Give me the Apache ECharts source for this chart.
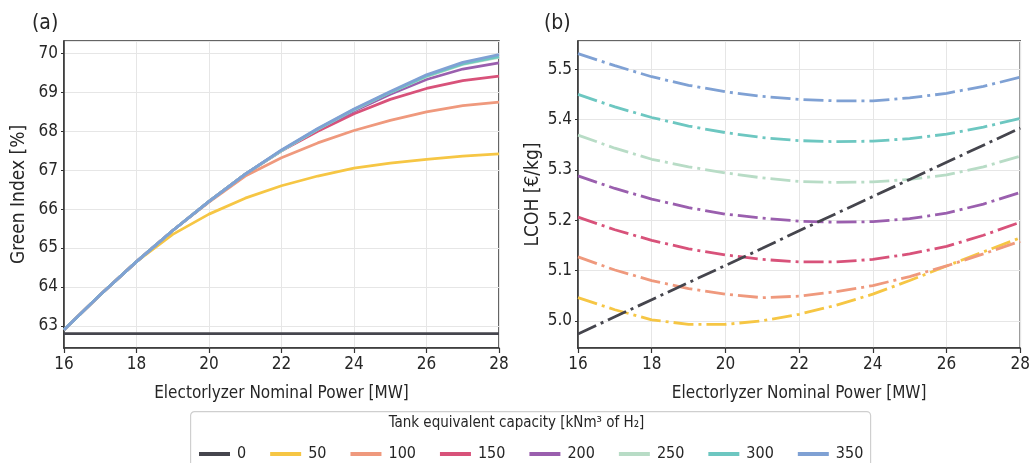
<!DOCTYPE html>
<html>
<head>
<meta charset="utf-8">
<script src="https://cdn.jsdelivr.net/npm/echarts@6/dist/echarts.min.js"></script>
<style>
  html, body { margin: 0; padding: 0; background: #fff; }
  #chart { width: 1033px; height: 463px; }
</style>
</head>
<body>
<div id="chart"></div>
<script>
// x values: electrolyzer nominal power [MW]
const powerMW = [16, 17, 18, 19, 20, 21, 22, 23, 24, 25, 26, 27, 28]
// tank equivalent capacity [kNm3 of H2]
const capacities = ['0', '50', '100', '150', '200', '250', '300', '350']
const palette = ['#45454d', '#f6c644', '#ef997d', '#d8527a', '#9a5fae', '#b8dcc6', '#6dc7c1', '#7fa1d4']

// (a) Green Index [%]
const green0   = [62.8, 62.8, 62.8, 62.8, 62.8, 62.8, 62.8, 62.8, 62.8, 62.8, 62.8, 62.8, 62.8]
const green50  = [62.9, 63.8, 64.65, 65.35, 65.87, 66.28, 66.6, 66.85, 67.05, 67.18, 67.28, 67.36, 67.42]
const green100 = [62.9, 63.8, 64.65, 65.45, 66.18, 66.85, 67.32, 67.7, 68.02, 68.28, 68.5, 68.66, 68.75]
const green150 = [62.9, 63.8, 64.65, 65.45, 66.2, 66.9, 67.5, 68.0, 68.45, 68.82, 69.1, 69.3, 69.42]
const green200 = [62.9, 63.8, 64.65, 65.45, 66.2, 66.9, 67.5, 68.05, 68.52, 68.95, 69.33, 69.6, 69.76]
const green250 = [62.9, 63.8, 64.65, 65.45, 66.2, 66.9, 67.5, 68.05, 68.55, 69.0, 69.4, 69.72, 69.9]
const green300 = [62.9, 63.8, 64.65, 65.45, 66.2, 66.9, 67.51, 68.06, 68.56, 69.0, 69.42, 69.73, 69.92]
const green350 = [62.9, 63.8, 64.65, 65.45, 66.2, 66.9, 67.52, 68.07, 68.57, 69.02, 69.45, 69.77, 69.97]

// (b) LCOH [€/kg]
const lcoh0   = [4.974, 5.008, 5.042, 5.076, 5.110, 5.144, 5.179, 5.213, 5.247, 5.281, 5.315, 5.349, 5.383]
const lcoh50  = [5.046, 5.022, 5.002, 4.993, 4.993, 5.0, 5.013, 5.031, 5.053, 5.08, 5.109, 5.137, 5.165]
const lcoh100 = [5.127, 5.101, 5.08, 5.064, 5.053, 5.046, 5.049, 5.058, 5.07, 5.088, 5.109, 5.133, 5.158]
const lcoh150 = [5.206, 5.181, 5.16, 5.143, 5.131, 5.122, 5.117, 5.117, 5.122, 5.133, 5.148, 5.17, 5.196]
const lcoh200 = [5.288, 5.263, 5.242, 5.225, 5.212, 5.204, 5.198, 5.196, 5.197, 5.203, 5.214, 5.232, 5.255]
const lcoh250 = [5.369, 5.343, 5.321, 5.306, 5.294, 5.284, 5.277, 5.275, 5.276, 5.281, 5.29, 5.306, 5.327]
const lcoh300 = [5.45, 5.425, 5.404, 5.387, 5.374, 5.364, 5.358, 5.356, 5.357, 5.362, 5.371, 5.385, 5.402]
const lcoh350 = [5.531, 5.507, 5.485, 5.468, 5.455, 5.446, 5.44, 5.437, 5.437, 5.443, 5.452, 5.466, 5.484]

const greenSets = [green0, green50, green100, green150, green200, green250, green300, green350]
const lcohSets = [lcoh0, lcoh50, lcoh100, lcoh150, lcoh200, lcoh250, lcoh300, lcoh350]

const FONT = "'DejaVu Sans Condensed', 'DejaVu Sans', sans-serif"
const TXT = '#262626'

const pairs = vals => powerMW.map((x, i) => [x, vals[i]])

const xAxisCfg = gridIndex => ({
  type: 'value', gridIndex, min: 16, max: 28, interval: 2,
  name: 'Electorlyzer Nominal Power [MW]', nameLocation: 'middle', nameGap: 37,
  nameTextStyle: { fontFamily: FONT, fontSize: 17, color: TXT },
  axisLine: { show: true, lineStyle: { color: '#333', width: 1.5 } },
  axisTick: { show: true, length: 5, lineStyle: { color: '#333', width: 1.2 } },
  axisLabel: { fontFamily: FONT, fontSize: 17, color: TXT, margin: 8 },
  splitLine: { show: true, lineStyle: { color: '#e6e6e6', width: 1 } }
})

const yAxisCfg = (gridIndex, min, max, name, fmt) => ({
  type: 'value', gridIndex, min, max, splitNumber: 8,
  name, nameLocation: 'middle', nameGap: 35, nameRotate: 90,
  nameTextStyle: { fontFamily: FONT, fontSize: 19, color: TXT },
  axisLine: { show: true, lineStyle: { color: '#333', width: 1.5 } },
  axisTick: { show: true, length: 3, lineStyle: { color: '#333', width: 1 } },
  axisLabel: { fontFamily: FONT, fontSize: 17, color: TXT, margin: 6, formatter: fmt, showMinLabel: false, showMaxLabel: false },
  splitLine: { show: true, lineStyle: { color: '#e6e6e6', width: 1 } }
})

const fmtInt = v => Math.abs(v - Math.round(v)) < 1e-6 ? String(Math.round(v)) : ''
const fmtTenth = v => {
  const r = Math.round(v * 10) / 10
  return Math.abs(v - r) < 1e-6 ? r.toFixed(1) : ''
}

const series = []
capacities.forEach((name, i) => {
  series.push({
    name, type: 'line', xAxisIndex: 0, yAxisIndex: 0,
    data: pairs(greenSets[i]), symbol: 'none', z: 2 + i,
    itemStyle: { color: palette[i] },
    lineStyle: { color: palette[i], width: 2.8 }
  })
})
capacities.forEach((name, i) => {
  series.push({
    name, type: 'line', xAxisIndex: 1, yAxisIndex: 1,
    data: pairs(lcohSets[i]), symbol: 'none', z: 2 + (i === 0 ? 9 : i),
    itemStyle: { color: palette[i] },
    lineStyle: { color: palette[i], width: 2.8, type: [20, 5, 3, 5] }
  })
})

const chart = echarts.init(document.getElementById('chart'), null, { renderer: 'canvas' })
chart.setOption({
  animation: false,
  backgroundColor: '#fff',
  textStyle: { fontFamily: FONT },
  title: [
    { text: '(a)', left: 27, top: 8, textStyle: { fontFamily: FONT, fontSize: 21, fontWeight: 'normal', color: TXT } },
    { text: '(b)', left: 539, top: 8, textStyle: { fontFamily: FONT, fontSize: 21, fontWeight: 'normal', color: TXT } }
  ],
  grid: [
    { left: 64, right: 534, top: 41, bottom: 115, show: true, borderColor: '#333', borderWidth: 1.5, backgroundColor: '#fff' },
    { left: 578, right: 11, top: 41, bottom: 115, show: true, borderColor: '#333', borderWidth: 1.5, backgroundColor: '#fff' }
  ],
  xAxis: [xAxisCfg(0), xAxisCfg(1)],
  yAxis: [
    yAxisCfg(0, 62.43, 70.32, 'Green Index [%]', fmtInt),
    yAxisCfg(1, 4.946, 5.556, 'LCOH [€/kg]', fmtTenth)
  ],
  legend: {
    data: capacities,
    left: 194, top: 441,
    icon: 'rect', itemWidth: 31, itemHeight: 4, itemGap: 24,
    textStyle: { fontFamily: FONT, fontSize: 16, color: TXT, padding: [0, 0, 0, 2] }
  },
  graphic: [
    {
      type: 'rect', left: 190, top: 411, z: 0,
      shape: { width: 680, height: 70, r: 4 },
      style: { fill: '#fff', stroke: '#cfcfcf', lineWidth: 1.2 }
    },
    {
      type: 'text', left: 'center', top: 416, z: 1,
      style: { text: 'Tank equivalent capacity [kNm³ of H₂]', fontFamily: FONT, fontSize: 15, fill: TXT }
    }
  ],
  series
})
</script>
</body>
</html>
